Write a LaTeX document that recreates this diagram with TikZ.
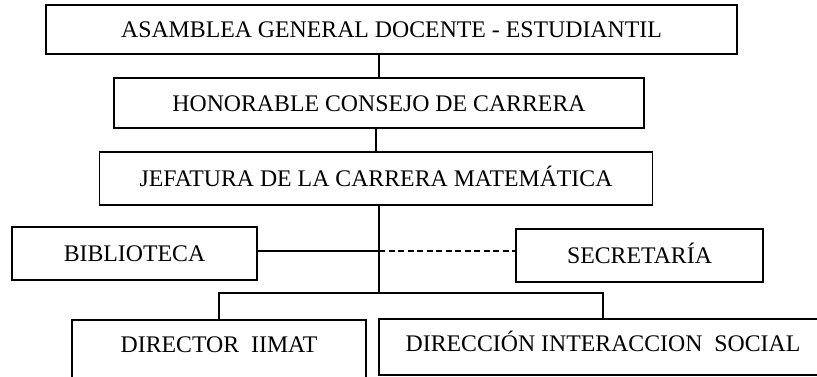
\documentclass[tikz,border=0pt]{standalone}
\usepackage{fontspec}
\setmainfont{Liberation Serif}
\tikzset{>=stealth}
\tikzset{caja/.style={draw, line width=1.5pt, inner sep=0pt,
    font=\fontsize{23.8}{28}\selectfont, text height=16pt, text depth=0pt}}
\tikzset{linea/.style={line width=1.5pt}}

\begin{document}
\begin{tikzpicture}[x=1pt,y=-1pt]
  \clip (0,0) rectangle (817,376);

  \node[caja, minimum width=691pt, minimum height=49pt] (asamblea) at (391.5,29.5)
    {ASAMBLEA GENERAL DOCENTE - ESTUDIANTIL};
  \node[caja, minimum width=530pt, minimum height=50pt] (consejo) at (379,103)
    {HONORABLE CONSEJO DE CARRERA};
  \node[caja, minimum width=553pt, minimum height=53pt] (jefatura) at (376,178.5)
    {JEFATURA DE LA CARRERA MATEM\'ATICA};

  \node[caja, minimum width=245pt, minimum height=53pt] (biblio) at (134.5,253.5)
    {BIBLIOTECA};
  \node[caja, minimum width=247pt, minimum height=53pt] (secre) at (639.5,255.5)
    {SECRETAR\'IA};

  \node[caja, minimum width=294pt, minimum height=60pt, text depth=11.5pt] (iimat) at (219,350)
    {DIRECTOR\ \ IIMAT};
  \node[caja, minimum width=448pt, minimum height=56pt, text depth=6.5pt] (social) at (603,347)
    {DIRECCI\'ON INTERACCION\ \ SOCIAL};

  \coordinate (cruce) at (379,251);
  \coordinate (bus) at (379,293);

  % lineas verticales
  \draw[linea] (consejo.north) -- (consejo.north |- asamblea.south);
  \draw[linea] (jefatura.north) -- (jefatura.north |- consejo.south);
  \draw[linea] (jefatura.south -| bus) -- (bus);

  % biblioteca y secretaria
  \draw[linea] (biblio.east |- cruce) -- (cruce);
  \draw[linea, dash pattern=on 6pt off 3.5pt] (cruce) -- (secre.west |- cruce);

  % direcciones
  \draw[linea] (iimat.north) -- (iimat.north |- bus) -- (social.north |- bus) -- (social.north);
\end{tikzpicture}
\end{document}
